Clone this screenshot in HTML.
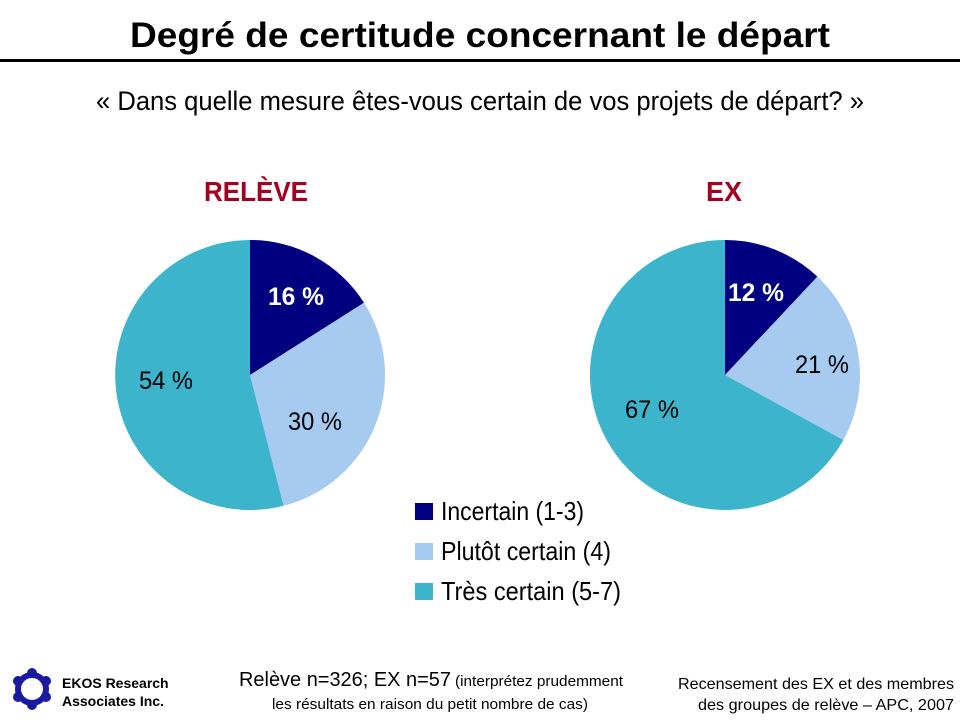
<!DOCTYPE html>
<html><head><meta charset="utf-8"><style>html,body{margin:0;padding:0;background:#fff}svg{display:block}</style></head>
<body>
<svg width="960" height="720" viewBox="0 0 960 720" xmlns="http://www.w3.org/2000/svg" font-family="Liberation Sans, Arial, sans-serif">
<text x="480" y="47" text-anchor="middle" font-size="35" font-weight="bold" textLength="700" lengthAdjust="spacingAndGlyphs">Degré de certitude concernant le départ</text>
<rect x="0" y="59" width="960" height="3" fill="#000"/>
<text x="480" y="110" text-anchor="middle" font-size="27" textLength="768" lengthAdjust="spacingAndGlyphs">« Dans quelle mesure êtes-vous certain de vos projets de départ? »</text>

<text x="256" y="201" text-anchor="middle" font-size="28" font-weight="bold" fill="#A50021" textLength="104" lengthAdjust="spacingAndGlyphs">RELÈVE</text>
<text x="724" y="201" text-anchor="middle" font-size="28" font-weight="bold" fill="#A50021" textLength="36" lengthAdjust="spacingAndGlyphs">EX</text>

<!-- Pie 1 -->
<path d="M250,375 L250,240 A135,135 0 0 1 364,302.7 Z" fill="#000080"/>
<path d="M250,375 L364,302.7 A135,135 0 0 1 283.6,505.8 Z" fill="#A6CAF0"/>
<path d="M250,375 L283.6,505.8 A135,135 0 1 1 250,240 Z" fill="#3CB4CC"/>
<text x="296" y="305" text-anchor="middle" font-size="25" font-weight="bold" fill="#fff" textLength="56" lengthAdjust="spacingAndGlyphs">16 %</text>
<text x="315" y="430" text-anchor="middle" font-size="25" fill="#000" textLength="54" lengthAdjust="spacingAndGlyphs">30 %</text>
<text x="166" y="389" text-anchor="middle" font-size="25" fill="#000" textLength="54" lengthAdjust="spacingAndGlyphs">54 %</text>

<!-- Pie 2 -->
<path d="M725,375 L725,240 A135,135 0 0 1 817.4,276.6 Z" fill="#000080"/>
<path d="M725,375 L817.4,276.6 A135,135 0 0 1 843.3,440 Z" fill="#A6CAF0"/>
<path d="M725,375 L843.3,440 A135,135 0 1 1 725,240 Z" fill="#3CB4CC"/>
<text x="756" y="301" text-anchor="middle" font-size="25" font-weight="bold" fill="#fff" textLength="56" lengthAdjust="spacingAndGlyphs">12 %</text>
<text x="822" y="373" text-anchor="middle" font-size="25" fill="#000" textLength="54" lengthAdjust="spacingAndGlyphs">21 %</text>
<text x="652" y="418" text-anchor="middle" font-size="25" fill="#000" textLength="54" lengthAdjust="spacingAndGlyphs">67 %</text>

<!-- Legend -->
<rect x="415" y="503" width="18" height="17" fill="#000080"/>
<rect x="415" y="543" width="18" height="17" fill="#A6CAF0"/>
<rect x="415" y="583" width="18" height="17" fill="#3CB4CC"/>
<text x="441" y="520" font-size="26" textLength="143" lengthAdjust="spacingAndGlyphs">Incertain (1-3)</text>
<text x="441" y="560" font-size="26" textLength="170" lengthAdjust="spacingAndGlyphs">Plutôt certain (4)</text>
<text x="441" y="600" font-size="26" textLength="180" lengthAdjust="spacingAndGlyphs">Très certain (5-7)</text>

<!-- Logo -->
<g fill="#1a1aa0" transform="translate(32,689)">
<circle r="14" fill="none" stroke="#1a1aa0" stroke-width="6"/>
<circle cx="0" cy="-16" r="5"/><circle cx="14" cy="-8" r="5"/><circle cx="14" cy="8" r="5"/>
<circle cx="0" cy="16" r="5"/><circle cx="-14" cy="8" r="5"/><circle cx="-14" cy="-8" r="5"/>
</g>
<text x="62" y="688" font-size="14" font-weight="bold">EKOS Research</text>
<text x="62" y="706" font-size="14" font-weight="bold">Associates Inc.</text>

<text x="239" y="686" font-size="20" textLength="212" lengthAdjust="spacingAndGlyphs">Relève n=326; EX n=57</text>
<text x="455" y="686" font-size="15" textLength="168" lengthAdjust="spacingAndGlyphs">(interprétez prudemment</text>
<text x="272" y="709" font-size="15" textLength="316" lengthAdjust="spacingAndGlyphs">les résultats en raison du petit nombre de cas)</text>

<text x="954" y="689" text-anchor="end" font-size="16" textLength="276" lengthAdjust="spacingAndGlyphs">Recensement des EX et des membres</text>
<text x="954" y="710" text-anchor="end" font-size="16" textLength="256" lengthAdjust="spacingAndGlyphs">des groupes de relève – APC, 2007</text>
</svg>
</body></html>
